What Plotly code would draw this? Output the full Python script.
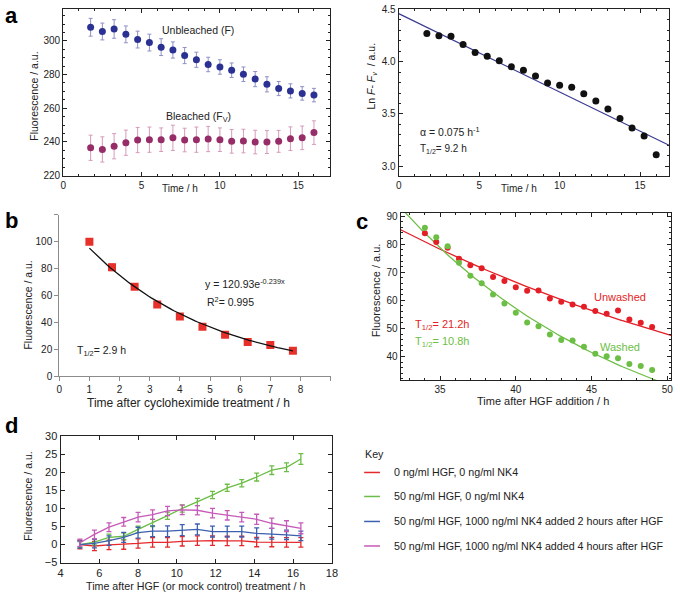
import numpy as np
import plotly.graph_objects as go

W, H = 680, 599
FONT = "Liberation Sans, Arial, sans-serif"

# ---- panel a : FRAP of unbleached / bleached regions ----
t_a = [1.75, 2.5, 3.25, 4.0, 4.75, 5.5, 6.25, 7.0, 7.75, 8.5,
       9.25, 10.0, 10.75, 11.5, 12.25, 13.0, 13.75, 14.5, 15.25, 16.0]
unbleached = [308.1, 305.6, 307.1, 303.9, 300.8, 299.0, 296.3, 294.6, 291.3, 288.8,
              286.0, 284.5, 282.6, 280.2, 277.3, 274.2, 271.7, 270.3, 268.8, 267.8]
unbleached_err = [5.3, 5.0, 5.5, 5.0, 5.0, 5.0, 5.0, 4.8, 4.8, 4.5,
                  4.3, 4.3, 4.3, 4.3, 4.5, 4.5, 4.2, 4.2, 4.0, 4.0]
bleached = [236.5, 235.5, 237.4, 239.5, 241.1, 241.3, 241.3, 242.4, 241.1, 241.3,
            241.7, 241.3, 240.3, 240.5, 239.9, 239.9, 240.3, 241.9, 242.4, 245.5]
bleached_err = [7.5, 7.5, 7.5, 7.5, 7.5, 7.5, 7.0, 7.5, 7.0, 7.5,
                7.5, 7.0, 7.0, 7.0, 7.0, 6.8, 6.5, 7.0, 7.0, 7.0]
ln_diff = [4.271, 4.249, 4.243, 4.164, 4.089, 4.051, 4.008, 3.951, 3.919, 3.863,
           3.797, 3.775, 3.756, 3.693, 3.624, 3.546, 3.455, 3.364, 3.288, 3.109]
ln_intercept, alpha = 4.46, 0.075

# ---- panel b : cycloheximide chase ----
t_b = [1.0, 1.75, 2.5, 3.25, 4.0, 4.75, 5.5, 6.25, 7.0, 7.75]
fluor_b = [100.0, 81.0, 66.6, 53.4, 44.4, 36.8, 31.0, 25.6, 23.4, 19.0]
fluor_b_err = [0, 2.5, 0, 0, 0, 0, 0, 0, 0, 0]
fit_b_amp, fit_b_rate = 120.93, 0.239

# ---- panel c : washed / unwashed ----
t_c = [34.0, 34.75, 35.5, 36.25, 37.0, 37.75, 38.5, 39.25, 40.0, 40.75, 41.5,
       42.25, 43.0, 43.75, 44.5, 45.25, 46.0, 46.75, 47.5, 48.25, 49.0]
unwashed = [83.9, 80.8, 78.7, 74.8, 72.5, 71.4, 68.3, 66.9, 64.7, 63.4, 63.5,
            60.7, 59.5, 58.5, 57.7, 56.2, 55.2, 56.4, 53.2, 52.0, 50.5]
washed = [85.9, 82.5, 79.3, 73.4, 68.8, 66.1, 62.1, 58.9, 55.6, 52.1, 50.8,
          47.8, 45.9, 45.7, 43.5, 41.0, 40.1, 39.4, 37.3, 36.6, 35.2]
half_unwashed, amp_unwashed = 21.2, 83.5
half_washed, amp_washed = 10.8, 89.5
t_fit0 = 33.0

# ---- panel d : HGF / NK4 ----
t_d = [5.0, 5.75, 6.5, 7.26, 8.0, 8.75, 9.52, 10.28, 11.06, 11.84,
       12.6, 13.35, 14.12, 14.9, 15.66, 16.4]
d_red = [0.0, -0.4, -0.1, 0.0, 0.3, 0.6, 0.6, 0.9, 1.1, 1.1, 1.0, 1.0, 0.7, 0.7, 0.6, 0.6]
d_red_err = [1.2, 1.3, 1.3, 1.3, 1.3, 1.3, 1.3, 1.3, 1.3, 1.3, 1.3, 1.3, 1.3, 1.3, 1.3, 1.3]
d_green = [0.0, 0.7, 2.0, 2.3, 4.2, 6.0, 8.0, 10.0, 11.8, 13.7, 15.7, 17.0, 18.7, 20.6, 21.4, 23.7]
d_green_err = [0.8, 0.8, 0.9, 0.9, 0.9, 1.0, 1.0, 1.0, 1.0, 1.0, 1.0, 1.0, 1.1, 1.2, 1.2, 1.5]
d_blue = [0.0, 0.3, 1.1, 2.0, 3.3, 3.7, 3.7, 4.0, 4.2, 3.6, 3.6, 3.6, 3.1, 3.0, 2.7, 2.4]
d_blue_err = [1.0, 1.2, 1.3, 1.4, 1.5, 1.5, 1.5, 1.5, 1.5, 1.5, 1.5, 1.5, 1.5, 1.5, 1.3, 1.3]
d_pink = [0.5, 2.8, 4.8, 6.3, 7.6, 8.3, 9.3, 9.6, 9.5, 8.7, 8.1, 7.6, 7.0, 5.9, 5.1, 4.5]
d_pink_err = [1.0, 1.2, 1.2, 1.2, 1.3, 1.3, 1.3, 1.3, 1.3, 1.3, 1.3, 1.3, 1.4, 1.4, 1.5, 1.5]
key_labels = ["0 ng/ml HGF, 0 ng/ml NK4",
              "50 ng/ml HGF, 0 ng/ml NK4",
              "50 ng/ml HGF, 1000 ng/ml NK4 added 2 hours after HGF",
              "50 ng/ml HGF, 1000 ng/ml NK4 added 4 hours after HGF"]
d_colors = ["#e5282b", "#6bbd45", "#3c5fae", "#c65ab9"]


def px(x):
    return x / W


def py(y):
    return 1 - y / H


fig = go.Figure()

# panel a left
fig.add_trace(go.Scatter(x=t_a, y=unbleached, mode="markers", xaxis="x", yaxis="y",
                         marker=dict(size=7, color="#2b3192"),
                         error_y=dict(type="data", array=unbleached_err, color="#8e90c4", thickness=1, width=2)))
fig.add_trace(go.Scatter(x=t_a, y=bleached, mode="markers", xaxis="x", yaxis="y",
                         marker=dict(size=7, color="#962d68"),
                         error_y=dict(type="data", array=bleached_err, color="#d59bbb", thickness=1, width=2)))

# panel a right
xl = np.array([0, 16.8])
fig.add_trace(go.Scatter(x=xl, y=ln_intercept - alpha * xl, mode="lines", xaxis="x2", yaxis="y2",
                         line=dict(color="#3b3b94", width=1.2)))
fig.add_trace(go.Scatter(x=t_a, y=ln_diff, mode="markers", xaxis="x2", yaxis="y2",
                         marker=dict(size=7, color="#111111")))

# panel b
xb = np.linspace(t_b[0], t_b[-1], 80)
fig.add_trace(go.Scatter(x=t_b, y=fluor_b, mode="markers", xaxis="x3", yaxis="y3",
                         marker=dict(size=8, symbol="square", color="#e8302b"),
                         error_y=dict(type="data", array=fluor_b_err, color="#888888", thickness=1, width=3)))
fig.add_trace(go.Scatter(x=xb, y=fit_b_amp * np.exp(-fit_b_rate * xb), mode="lines", xaxis="x3", yaxis="y3",
                         line=dict(color="#111111", width=1.3)))

# panel c
xc = np.linspace(32.4, 50.3, 100)
fig.add_trace(go.Scatter(x=xc, y=amp_unwashed * 2 ** (-(xc - t_fit0) / half_unwashed), mode="lines",
                         xaxis="x4", yaxis="y4", line=dict(color="#e41e26", width=1.3)))
fig.add_trace(go.Scatter(x=xc, y=amp_washed * 2 ** (-(xc - t_fit0) / half_washed), mode="lines",
                         xaxis="x4", yaxis="y4", line=dict(color="#6cbe45", width=1.3)))
fig.add_trace(go.Scatter(x=t_c, y=unwashed, mode="markers", xaxis="x4", yaxis="y4",
                         marker=dict(size=6, color="#e41e26")))
fig.add_trace(go.Scatter(x=t_c, y=washed, mode="markers", xaxis="x4", yaxis="y4",
                         marker=dict(size=6, color="#6cbe45")))

# panel d
for ys, es, col in [(d_red, d_red_err, d_colors[0]), (d_green, d_green_err, d_colors[1]),
                    (d_blue, d_blue_err, d_colors[2]), (d_pink, d_pink_err, d_colors[3])]:
    fig.add_trace(go.Scatter(x=t_d, y=ys, mode="lines", xaxis="x5", yaxis="y5",
                             line=dict(color=col, width=1.3),
                             error_y=dict(type="data", array=es, color=col, thickness=1.3, width=2.5)))

# axes
frame = dict(showline=True, linecolor="#222222", linewidth=1, mirror="allticks", ticks="inside",
             ticklen=4, tickcolor="#222222", showgrid=False, zeroline=False,
             tickfont=dict(size=10, color="#222222", family=FONT))


def minor(d):
    return dict(ticks="inside", ticklen=2, dtick=d, tickcolor="#222222", showgrid=False)


excel = dict(showline=True, linecolor="#8c8c8c", linewidth=1, ticks="outside", ticklen=4,
             tickcolor="#8c8c8c", showgrid=False, zeroline=False,
             tickfont=dict(size=10, color="#222222", family=FONT))

layout_axes = dict(
    xaxis=dict(frame, domain=[px(61), px(331)], range=[0, 17], tickvals=[0, 5, 10, 15],
               minor=minor(1), anchor="y"),
    yaxis=dict(frame, domain=[py(173), py(3)], range=[220, 319], dtick=20,
               minor=minor(5), anchor="x"),
    xaxis2=dict(frame, domain=[px(401), px(675)], range=[0, 16.8], tickvals=[0, 5, 10, 15],
                minor=minor(1), anchor="y2"),
    yaxis2=dict(frame, domain=[py(173), py(3)], range=[2.91, 4.505], tickvals=[3.0, 3.5, 4.0, 4.5],
                tickformat=".1f", minor=minor(0.1), anchor="x2"),
    xaxis3=dict(excel, domain=[px(57), px(332)], range=[0, 9], tickvals=list(range(10)),
                ticktext=[str(i) for i in range(9)] + [""], anchor="y3"),
    yaxis3=dict(excel, domain=[py(378), py(213)], range=[0, 120], tickvals=[0, 20, 40, 60, 80, 100, 120],
                ticktext=["0", "20", "40", "60", "80", "100", ""], anchor="x3"),
    xaxis4=dict(frame, domain=[px(403), px(677)], range=[32.4, 50.25], tickvals=[35, 40, 45, 50],
                minor=minor(1), anchor="y4"),
    yaxis4=dict(frame, domain=[py(382), py(211)], range=[31.5, 91.2], tickvals=[40, 50, 60, 70, 80, 90],
                minor=minor(2), anchor="x4"),
    xaxis5=dict(frame, domain=[px(58.3), px(333.3)], range=[4, 18], dtick=2, anchor="y5"),
    yaxis5=dict(frame, domain=[py(568), py(439)], range=[-5, 30], dtick=5, anchor="x5"),
)
layout_axes["xaxis5"]["tickfont"] = dict(size=11, color="#222222", family=FONT)
layout_axes["yaxis5"]["tickfont"] = dict(size=11, color="#222222", family=FONT)

annotations = []


def ann(text, x, y, size=10, color="#222222", anchor="center", angle=0, bold=False):
    if bold:
        text = "<b>" + text + "</b>"
    annotations.append(dict(text=text, x=px(x), y=py(y), xref="paper", yref="paper",
                            xanchor=anchor, yanchor="middle", showarrow=False, textangle=angle,
                            font=dict(size=size, color=color, family=FONT)))


# panel letters
ann("a", 9, 10, 22, "#000000", bold=True)
ann("b", 9, 219, 22, "#000000", bold=True)
ann("c", 364, 220, 22, "#000000", bold=True)
ann("d", 9, 428, 22, "#000000", bold=True)

# panel a texts
ann("Time / h", 179, 186, 10)
ann("Fluorescence / a.u.", 32, 92, 10.5, angle=-90)
ann("Unbleached (F)", 198, 24, 10.5)
ann("Bleached (F<sub>V</sub>)", 198, 113, 10.5)
ann("Time / h", 523, 186, 10)
ann("Ln <i>F</i>- <i>F<sub>v</sub></i>  / a.u.", 373, 72, 10.5, angle=-90)
ann("α = 0.075 h<sup>-1</sup>", 421, 128, 10.5, anchor="left")
ann("T<sub>1/2</sub>= 9.2 h", 421, 146, 10, anchor="left")

# panel b texts
ann("Fluorescence / a.u.", 25, 305, 10.5, angle=-90)
ann("Time after cycloheximide treatment / h", 188, 405, 12)
ann("y = 120.93e<sup>-0.239x</sup>", 203, 283, 10.5, anchor="left")
ann("R<sup>2</sup>= 0.995", 205, 302, 10.5, anchor="left")
ann("T<sub>1/2</sub>= 2.9 h", 73, 352, 10.5, anchor="left")

# panel c texts
ann("Fluorescence / a.u.", 378, 290, 11, angle=-90)
ann("Time after HGF addition / h", 547, 403, 11)
ann("Unwashed", 625, 297, 11, "#e41e26")
ann("Washed", 625, 348, 11, "#6cbe45")
ann("T<sub>1/2</sub>= 21.2h", 415, 326, 11, "#e41e26", anchor="left")
ann("T<sub>1/2</sub>= 10.8h", 415, 343, 11, "#6cbe45", anchor="left")

# panel d texts
ann("Fluorescence / a.u.", 25, 500, 10.5, angle=-90)
ann("Time after HGF (or mock control) treatment / h", 195, 592, 10.7)

# key
ann("Key", 365, 457, 10.7, anchor="left")
shapes = []
for i, (lab, col) in enumerate(zip(key_labels, d_colors)):
    yy = [476, 500.5, 526, 551][i]
    ann(lab, 394, yy, 10.7, anchor="left")
    shapes.append(dict(type="line", xref="paper", yref="paper", x0=px(366), x1=px(382),
                       y0=py(yy), y1=py(yy), line=dict(color=col, width=1.5)))

fig.update_layout(width=W, height=H, margin=dict(l=0, r=0, t=0, b=0),
                  paper_bgcolor="white", plot_bgcolor="white", showlegend=False,
                  font=dict(family=FONT, color="#222222"),
                  annotations=annotations, shapes=shapes, **layout_axes)

fig.write_html("out.html", config={"displayModeBar": False},
               post_script="document.body.style.margin='0';document.body.style.overflow='hidden';")
